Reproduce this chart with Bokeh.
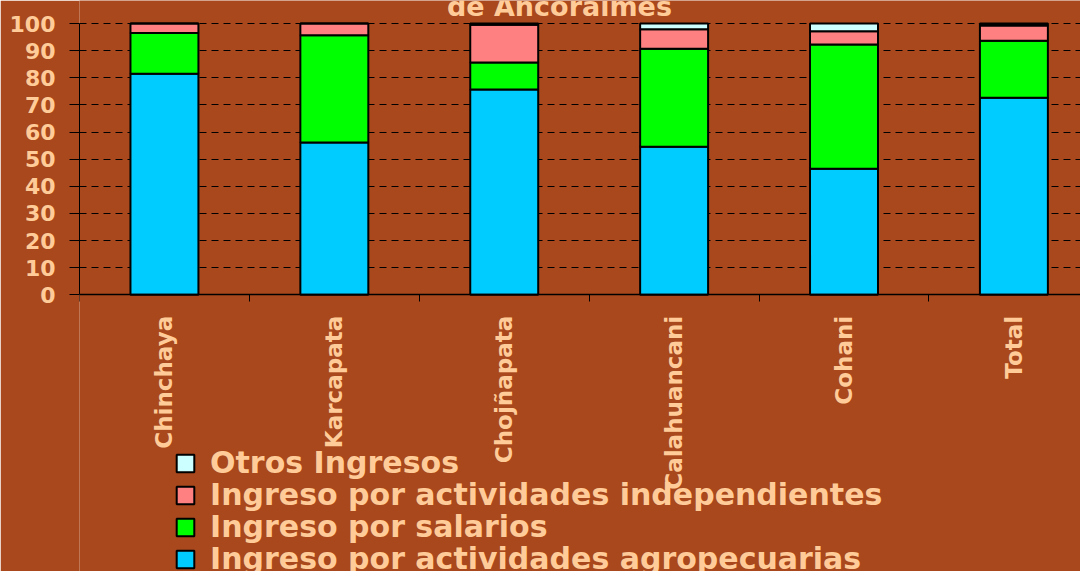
from math import pi
from bokeh.plotting import figure
from bokeh.models import (ColumnDataSource, Range1d, FixedTicker, Legend,
                          LegendItem, Label)
from bokeh.embed import file_html
from bokeh.resources import INLINE

# ---- data ----
categories = ["Chinchaya", "Karcapata", "Chojñapata", "Calahuancani", "Cohani", "Total"]
agropecuarias = [81.5, 56.1, 75.7, 54.6, 46.5, 72.6]
salarios = [15.0, 39.6, 9.9, 36.1, 45.8, 21.0]
independientes = [3.5, 4.3, 13.9, 7.2, 4.8, 5.7]
otros = [0.0, 0.0, 0.5, 2.1, 2.9, 0.7]
y_ticks = [0, 10, 20, 30, 40, 50, 60, 70, 80, 90, 100]
series_names = ["Ingreso por actividades agropecuarias", "Ingreso por salarios",
                "Ingreso por actividades independientes", "Otros Ingresos"]
series_colors = ["#00CCFF", "#00FF00", "#FF8080", "#CCFFFF"]
title_text = "de Ancoraimes"

FONT = "DejaVu Sans"
TXT = "#FFCC99"
BG = "#A8481C"

centers = [i + 0.5 for i in range(len(categories))]
boundaries = [float(i) for i in range(len(categories))]

src = ColumnDataSource(dict(x=centers, agro=agropecuarias, sal=salarios,
                            ind=independientes, otr=otros))

p = figure(width=1080, height=571, output_backend="svg", toolbar_location=None,
           x_range=Range1d(0, 5.892), y_range=Range1d(-101.99, 108.48),
           min_border_left=79, min_border_right=0, min_border_top=0,
           min_border_bottom=0)
p.background_fill_color = BG
p.border_fill_color = BG
p.outline_line_color = None

rs = p.vbar_stack(["agro", "sal", "ind", "otr"], x="x", width=0.4, source=src,
                  fill_color=series_colors, line_color="black", line_width=2)

# x axis drawn at y = 0
p.xaxis.fixed_location = 0
p.xaxis.ticker = FixedTicker(ticks=centers, minor_ticks=boundaries)
p.xaxis.major_label_overrides = {c: n for c, n in zip(centers, categories)}
p.xaxis.major_label_orientation = pi / 2
p.xaxis.major_tick_out = 0
p.xaxis.major_tick_in = 0
p.xaxis.minor_tick_out = 7
p.xaxis.minor_tick_in = 0
p.xaxis.minor_tick_line_color = "black"
p.xaxis.axis_line_color = "black"
p.xaxis.axis_line_width = 1.5
p.xaxis.major_label_standoff = 14
p.xaxis.major_label_text_font = FONT
p.xaxis.major_label_text_font_style = "bold"
p.xaxis.major_label_text_font_size = "23px"
p.xaxis.major_label_text_color = TXT

p.yaxis.bounds = (0, 100)
p.yaxis.ticker = FixedTicker(ticks=y_ticks)
p.yaxis.major_tick_out = 10
p.yaxis.major_tick_in = 0
p.yaxis.minor_tick_line_color = None
p.yaxis.major_tick_line_color = "black"
p.yaxis.axis_line_color = "black"
p.yaxis.major_label_standoff = 14
p.yaxis.major_label_text_font = FONT
p.yaxis.major_label_text_font_style = "bold"
p.yaxis.major_label_text_font_size = "22px"
p.yaxis.major_label_text_color = TXT

p.xgrid.grid_line_color = None
p.ygrid.ticker = FixedTicker(ticks=y_ticks[1:])
p.ygrid.grid_line_color = "black"
p.ygrid.grid_line_dash = "7 5"
p.ygrid.grid_line_width = 1

# title fragment (its upper line lies outside the picture)
p.add_layout(Label(x=2.825, y=106.2, text=title_text, text_align="center",
                   text_baseline="alphabetic", text_font=FONT,
                   text_font_style="bold", text_font_size="27px",
                   text_color=TXT))

# legend: one row per series, top row = last stacked series
row_offsets = [91, 59, 27, -5]
for order, i in enumerate([3, 2, 1, 0]):
    lg = Legend(items=[LegendItem(label=series_names[i], renderers=[rs[i]])],
                location=(95, row_offsets[order]), glyph_width=22, glyph_height=22,
                label_standoff=14, spacing=0, padding=0, margin=0,
                background_fill_alpha=0, border_line_alpha=0,
                label_text_font=FONT, label_text_font_style="bold",
                label_text_font_size="30px", label_text_color=TXT)
    p.add_layout(lg, "center")

open("out.html", "w").write(file_html(p, INLINE))
